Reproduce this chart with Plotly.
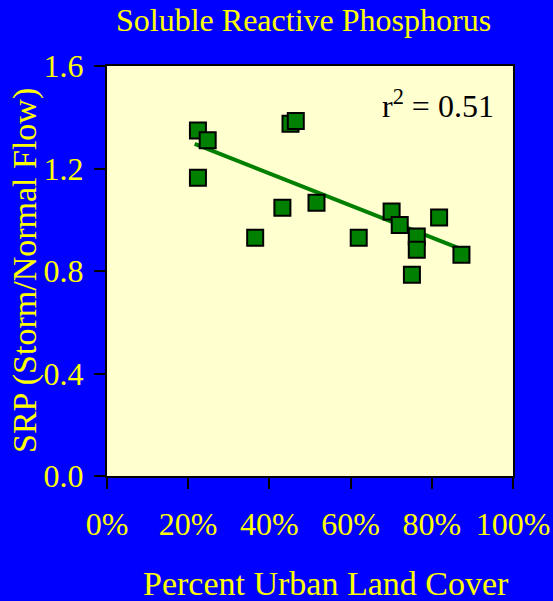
import plotly.graph_objects as go

urban_pct = [22.4, 24.8, 22.4, 45.2, 46.5, 43.2, 36.5, 51.6, 62.0, 70.1, 72.1, 81.8, 76.3, 76.3, 75.1, 87.3]
srp_ratio = [1.348, 1.31, 1.164, 1.375, 1.385, 1.047, 0.93, 1.066, 0.93, 1.032, 0.98, 1.009, 0.935, 0.883, 0.785, 0.863]
fit_x = [21.6, 88.8]
fit_y = [1.296, 0.876]
x_ticks = [0, 20, 40, 60, 80, 100]
x_tick_labels = ["0%", "20%", "40%", "60%", "80%", "100%"]
y_ticks = [0.0, 0.4, 0.8, 1.2, 1.6]
y_tick_labels = ["0.0", "0.4", "0.8", "1.2", "1.6"]

FONT = "Liberation Serif, Times New Roman, serif"
YEL = "#FFFF00"
FS = 32
W, H = 553, 601
L, R, T, B = 107, 40, 66, 125
pw = W - L - R
ph = H - T - B

fig = go.Figure()
fig.add_trace(go.Scatter(x=fit_x, y=fit_y, mode="lines",
                         line=dict(color="#008000", width=4), hoverinfo="skip"))
fig.add_trace(go.Scatter(x=urban_pct, y=srp_ratio, mode="markers",
                         marker=dict(symbol="square", size=16, color="#008000",
                                     line=dict(color="black", width=2))))

fig.update_layout(
    width=W, height=H,
    margin=dict(l=L, r=R, t=T, b=B, autoexpand=False),
    paper_bgcolor="#0000FF",
    plot_bgcolor="#FFFFD0",
    showlegend=False,
    font=dict(family=FONT, color=YEL, size=FS),
)
fig.update_xaxes(range=[0, 100], tickvals=x_ticks, ticktext=x_tick_labels,
                 showgrid=False, zeroline=False, showline=True, mirror=True,
                 linecolor="black", linewidth=2, ticks="outside", ticklen=11,
                 tickwidth=2, tickcolor="black", ticklabelstandoff=8,
                 automargin=False,
                 tickfont=dict(family=FONT, color=YEL, size=FS))
fig.update_yaxes(range=[0, 1.6], tickvals=y_ticks, ticktext=y_tick_labels,
                 showgrid=False, zeroline=False, showline=True, mirror=True,
                 linecolor="black", linewidth=2, ticks="outside", ticklen=11,
                 tickwidth=2, tickcolor="black", ticklabelstandoff=4,
                 automargin=False,
                 tickfont=dict(family=FONT, color=YEL, size=FS))

def px_x(x):
    return (x - L) / pw

def px_y(y):
    return (H - B - y) / ph

fig.add_annotation(text="Soluble Reactive Phosphorus", xref="paper", yref="paper",
                   x=px_x(303), y=px_y(20), xanchor="center", yanchor="middle",
                   showarrow=False, font=dict(family=FONT, color=YEL, size=FS))
fig.add_annotation(text="SRP (Storm/Normal Flow)", xref="paper", yref="paper",
                   x=px_x(25), y=px_y(271), xanchor="center", yanchor="middle",
                   textangle=-90, showarrow=False,
                   font=dict(family=FONT, color=YEL, size=34))
fig.add_annotation(text="Percent Urban Land Cover", xref="paper", yref="paper",
                   x=px_x(326), y=px_y(583), xanchor="center", yanchor="middle",
                   showarrow=False, font=dict(family=FONT, color=YEL, size=34))
fig.add_annotation(text="r<sup>2</sup> = 0.51", xref="paper", yref="paper",
                   x=px_x(496), y=px_y(104), xanchor="right", yanchor="middle",
                   showarrow=False, font=dict(family=FONT, color="black", size=FS))

fig.write_html("out.html", config={"displayModeBar": False},
               post_script="document.body.style.margin='0';document.body.style.padding='0';")
